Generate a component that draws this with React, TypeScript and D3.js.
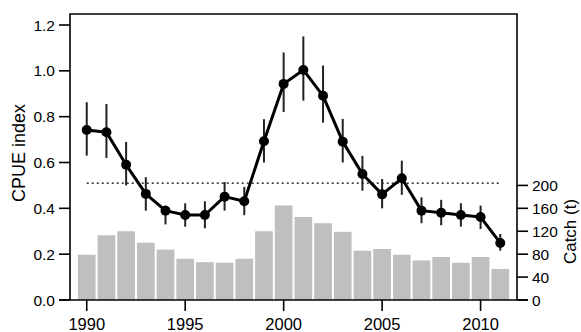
import React from "react";
import * as d3 from "d3";

// Survey years
const years = [1990, 1991, 1992, 1993, 1994, 1995, 1996, 1997, 1998, 1999, 2000, 2001, 2002, 2003, 2004, 2005, 2006, 2007, 2008, 2009, 2010, 2011];
// Standardised CPUE index and its confidence limits
const cpue = [0.742, 0.732, 0.59, 0.463, 0.39, 0.371, 0.371, 0.451, 0.431, 0.693, 0.943, 1.004, 0.891, 0.691, 0.55, 0.461, 0.531, 0.39, 0.381, 0.371, 0.362, 0.249];
const cpueUpper = [0.863, 0.855, 0.69, 0.536, 0.412, 0.422, 0.431, 0.515, 0.493, 0.789, 1.08, 1.15, 1.023, 0.79, 0.629, 0.528, 0.608, 0.448, 0.437, 0.422, 0.412, 0.288];
const cpueLower = [0.63, 0.62, 0.5, 0.39, 0.33, 0.32, 0.313, 0.39, 0.37, 0.6, 0.82, 0.87, 0.774, 0.6, 0.477, 0.4, 0.459, 0.335, 0.326, 0.32, 0.31, 0.215];
// Annual catch in tonnes
const catchT = [79, 113, 120, 100, 88, 72, 66, 65, 72, 120, 165, 145, 134, 119, 86, 89, 79, 69, 75, 65, 75, 54];
// Reference level drawn as a dotted line
const refLevel = 0.51;

const leftTicks = [0, 0.2, 0.4, 0.6, 0.8, 1.0, 1.2];
const rightTicks = [0, 40, 80, 120, 160, 200];
const yearTicks = [1990, 1995, 2000, 2005, 2010];

const W = 581;
const H = 332;
const m = { left: 70, right: 517, top: 14, bottom: 300 };

export default function App() {
  const x = d3.scaleLinear().domain([1989.15, 2011.85]).range([m.left, m.right]);
  const y = d3.scaleLinear().domain([0, 1.2]).range([m.bottom, 25]);
  const yc = d3.scaleLinear().domain([0, 200]).range([m.bottom, y(0.5)]);
  const barW = (x(1991) - x(1990)) - 2;

  const line = d3
    .line<number>()
    .x((_, i) => x(years[i]))
    .y((d) => y(d));

  const font = "'Liberation Sans', Arial, sans-serif";

  return (
    <svg width={W} height={H} style={{ position: "absolute", left: 0, top: 0, background: "#fff" }} fontFamily={font}>
      {/* catch bars */}
      {catchT.map((c, i) => (
        <rect
          key={"b" + i}
          x={x(years[i]) - barW / 2}
          y={yc(c)}
          width={barW}
          height={m.bottom - yc(c)}
          fill="#bfbfbf"
        />
      ))}
      {/* reference level */}
      <line
        x1={x(1990)}
        x2={x(2011)}
        y1={y(refLevel)}
        y2={y(refLevel)}
        stroke="#000"
        strokeWidth={1.2}
        strokeDasharray="2,3"
      />
      {/* confidence intervals */}
      {years.map((yr, i) => (
        <line
          key={"e" + i}
          x1={x(yr)}
          x2={x(yr)}
          y1={y(cpueUpper[i])}
          y2={y(cpueLower[i])}
          stroke="#222"
          strokeWidth={2}
        />
      ))}
      <path d={line(cpue) || ""} fill="none" stroke="#000" strokeWidth={3} strokeLinejoin="round" />
      {cpue.map((v, i) => (
        <circle key={"p" + i} cx={x(years[i])} cy={y(v)} r={5} fill="#000" />
      ))}
      {/* frame */}
      <path
        d={`M${m.left},${m.bottom}V${m.top}H${m.right}V${m.bottom}`}
        fill="none"
        stroke="#000"
        strokeWidth={1.6}
      />
      <line x1={m.left - 11} x2={m.right + 11} y1={m.bottom} y2={m.bottom} stroke="#000" strokeWidth={1.6} />
      {/* left axis */}
      {leftTicks.map((t) => (
        <g key={"l" + t}>
          <line x1={m.left - 11} x2={m.left} y1={y(t)} y2={y(t)} stroke="#000" strokeWidth={1.6} />
          <text x={m.left - 15} y={y(t)} dy="0.36em" textAnchor="end" fontSize={15.5}>
            {t.toFixed(1)}
          </text>
        </g>
      ))}
      <text transform="translate(25,153) rotate(-90)" textAnchor="middle" fontSize={18}>
        CPUE index
      </text>
      {/* right axis */}
      {rightTicks.map((t) => (
        <g key={"r" + t}>
          <line x1={m.right} x2={m.right + 11} y1={yc(t)} y2={yc(t)} stroke="#000" strokeWidth={1.6} />
          <text x={m.right + 15} y={yc(t)} dy="0.36em" textAnchor="start" fontSize={15.5}>
            {t}
          </text>
        </g>
      ))}
      <text transform="translate(576,231.5) rotate(-90)" textAnchor="middle" fontSize={17}>
        Catch (t)
      </text>
      {/* year axis */}
      {yearTicks.map((t) => (
        <g key={"x" + t}>
          <line x1={x(t)} x2={x(t)} y1={m.bottom} y2={m.bottom + 11} stroke="#000" strokeWidth={1.6} />
          <text x={x(t)} y={330} textAnchor="middle" fontSize={16.5}>
            {t}
          </text>
        </g>
      ))}
    </svg>
  );
}
